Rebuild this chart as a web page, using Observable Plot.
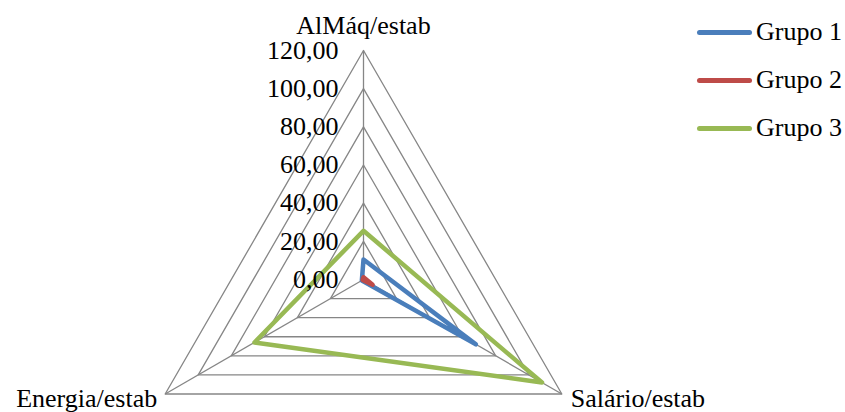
<!DOCTYPE html>
<html><head><meta charset="utf-8">
<script src="https://cdn.jsdelivr.net/npm/d3@7"></script>
<script src="https://cdn.jsdelivr.net/npm/@observablehq/plot@0.6"></script>
<style>
body{margin:0;background:#fff;}
#wrap{position:relative;width:845px;height:412px;font-family:"Liberation Serif","Times New Roman",serif;}
#legend{position:absolute;left:697px;top:8px;}
.item{display:flex;align-items:center;height:48px;font-size:26px;color:#000;font-family:"Liberation Serif","Times New Roman",serif;}
.sw{width:55px;height:5px;border-radius:3px;margin-right:4px;}
</style>
</head><body>
<div id="wrap"><div id="chart"></div><div id="legend"></div></div>
<script>
const axesNames = ["AlMáq/estab", "Salário/estab", "Energia/estab"];
const seriesNames = ["Grupo 1", "Grupo 2", "Grupo 3"];
const grupo1 = [10.5, 68, 1];
const grupo2 = [1.2, 5.5, 0.5];
const grupo3 = [25.5, 108, 66];
const tickValues = [0, 20, 40, 60, 80, 100, 120];
const tickLabels = ["0,00", "20,00", "40,00", "60,00", "80,00", "100,00", "120,00"];
const colors = ["#4A7EBB", "#BE4B48", "#98B954"];

const angles = axesNames.map((_, i) => i * 2 * Math.PI / 3);
const pos = (v, i) => ({x: v * Math.sin(angles[i]), y: v * Math.cos(angles[i])});

const gridRows = [];
tickValues.filter(t => t > 0).forEach(t => axesNames.forEach((_, i) => gridRows.push({t, ...pos(t, i)})));
const spokes = axesNames.map((_, i) => ({x1: 0, y1: 0, x2: pos(120, i).x, y2: pos(120, i).y}));
const seriesRows = [];
[grupo1, grupo2, grupo3].forEach((vals, s) => vals.forEach((v, i) => seriesRows.push({s: seriesNames[s], ...pos(v, i)})));
const tickRows = tickValues.map((t, k) => ({x: 0, y: t, label: tickLabels[k]}));
const axisRows = axesNames.map((n, i) => ({name: n, ...pos(120, i), i}));

const k = 229 / 120; // px per unit
const cx = 363, cy = 279, W = 845, H = 412;

const plot = Plot.plot({
  width: W, height: H,
  margin: 0,
  x: {domain: [-cx / k, (W - cx) / k], axis: null},
  y: {domain: [-(H - cy) / k, cy / k], axis: null},
  color: {domain: seriesNames, range: colors},
  style: {fontFamily: "'Liberation Serif','Times New Roman',serif", background: "#fff"},
  marks: [
    Plot.line(gridRows, {x: "x", y: "y", z: "t", curve: "linear-closed", stroke: "#868686", strokeWidth: 1.3}),
    Plot.link(spokes, {x1: "x1", y1: "y1", x2: "x2", y2: "y2", stroke: "#868686", strokeWidth: 1.3}),
    Plot.line(seriesRows, {x: "x", y: "y", z: "s", stroke: "s", curve: "linear-closed", strokeWidth: 4.5, strokeLinejoin: "round", strokeLinecap: "round"}),
    Plot.text(tickRows, {x: "x", y: "y", text: "label", textAnchor: "end", dx: -25, fontSize: 26, fill: "#000"}),
    Plot.text(axisRows.filter(d => d.i === 0), {x: "x", y: "y", text: "name", dy: -25, fontSize: 26, fill: "#000"}),
    Plot.text(axisRows.filter(d => d.i === 1), {x: "x", y: "y", text: "name", textAnchor: "start", dx: 9, dy: 5, fontSize: 26, fill: "#000"}),
    Plot.text(axisRows.filter(d => d.i === 2), {x: "x", y: "y", text: "name", textAnchor: "end", dx: -8, dy: 5, fontSize: 26, fill: "#000"})
  ]
});
document.getElementById("chart").appendChild(plot);

const legend = document.getElementById("legend");
seriesNames.forEach((n, i) => {
  const it = document.createElement("div");
  it.className = "item";
  it.innerHTML = `<div class="sw" style="background:${colors[i]}"></div><span>${n}</span>`;
  legend.appendChild(it);
});
</script>
</body></html>
